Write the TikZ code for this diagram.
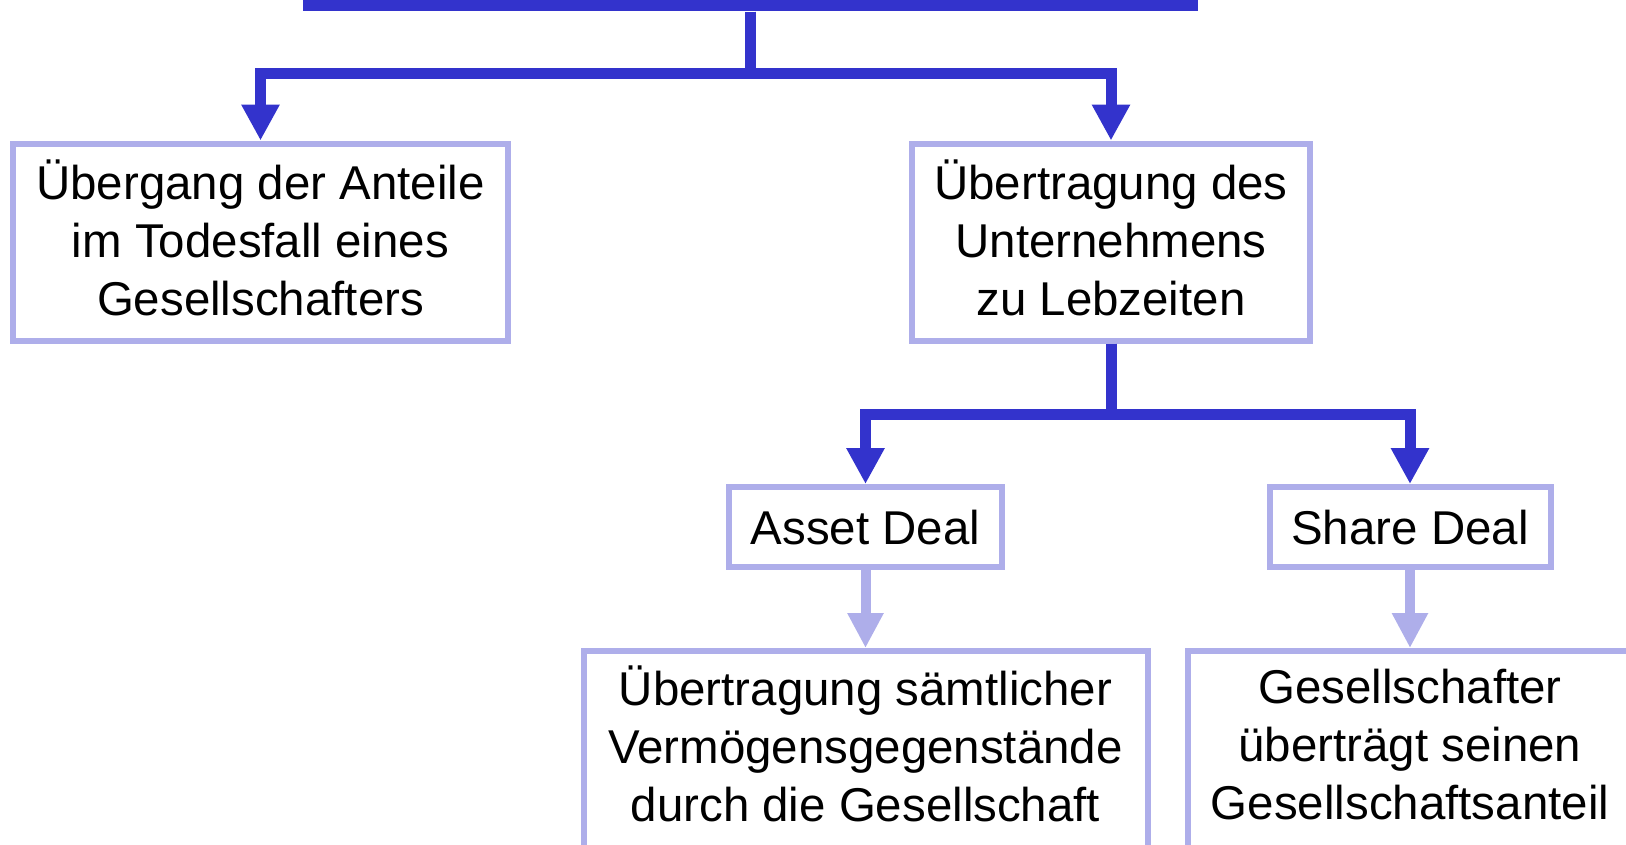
\documentclass[tikz,border=0pt]{standalone}
\usepackage{fontspec}
\setmainfont{Liberation Sans}
\usepackage{xcolor}
\usetikzlibrary{arrows.meta,positioning}
\definecolor{deepblue}{RGB}{51,51,204}
\definecolor{paleblue}{RGB}{174,174,234}

\begin{document}
\begin{tikzpicture}[
    x=0.1mm, y=-0.1mm,
    box/.style={draw=paleblue, line width=0.6mm, fill=white, align=center,
                inner sep=0pt, minimum height=19.7mm, text depth=0.9mm,
                font=\fontsize{13.5}{16.5}\selectfont},
    deal/.style={box, minimum height=8mm, text depth=0pt},
    cut/.style={box, minimum height=21mm, text depth=2.4mm},
    link/.style={draw=deepblue, line width=1.1mm, line join=miter,
                 -{Triangle[length=3.6mm, width=3.6mm]}},
    soft/.style={draw=paleblue, line width=1mm,
                 -{Triangle[length=3.5mm, width=3.4mm]}}]
  \useasboundingbox (0,0) rectangle (1626,844);
  \node[fill=deepblue, inner sep=0pt, minimum width=89.5mm,
        minimum height=1.1mm] (bar) at (750.5,5.5) {};
  \node[box, minimum width=49.5mm] (anteile) at (260.5,242)
    {Übergang der Anteile\\im Todesfall eines\\Gesellschafters};
  \node[box, minimum width=39.8mm] (leben) at (1111,242)
    {Übertragung des\\Unternehmens\\zu Lebzeiten};
  \node[deal, minimum width=27.3mm] (asset) at (865.5,527) {Asset Deal};
  \node[deal, minimum width=28.1mm] (share) at (1410,527) {Share Deal};
  \node[cut, minimum width=56.4mm] (verm) at (865.5,756)
    {Übertragung sämtlicher\\Vermögensgegenstände\\durch die Gesellschaft};
  \node[cut, minimum width=44.4mm] (anteil) at (1410,756)
    {Gesellschafter\\überträgt seinen\\Gesellschaftsanteil};
  \draw[link] (bar.south) -- ++(0,62) -| (anteile.north);
  \draw[link] (bar.south) -- ++(0,62) -| (leben.north);
  \draw[link] (leben.south) -- ++(0,71) -| (asset.north);
  \draw[link] (leben.south) -- ++(0,71) -| (share.north);
  \draw[soft] (asset) -- (verm);
  \draw[soft] (share) -- (anteil);
\end{tikzpicture}
\end{document}
